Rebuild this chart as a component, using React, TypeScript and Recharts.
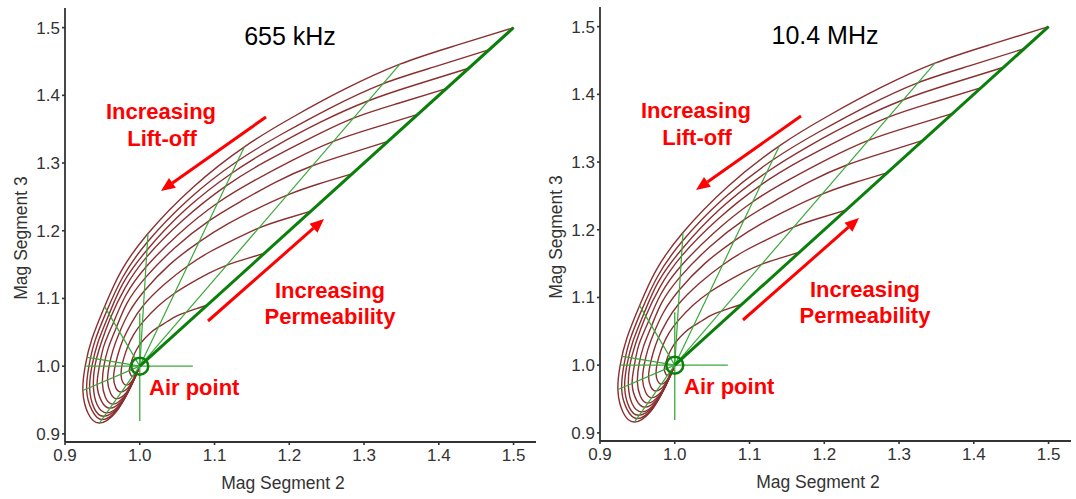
import React from 'react';
import { LineChart, Line, XAxis, YAxis, ReferenceDot } from 'recharts';

const xTicks = [0.9, 1.0, 1.1, 1.2, 1.3, 1.4, 1.5];
const yTicks = [0.9, 1.0, 1.1, 1.2, 1.3, 1.4, 1.5];
const panelTitles = ['655 kHz', '10.4 MHz'];

// lift-off curves, one per permeability: start on the zero lift-off line, run round to the air point
const mu1 = [[1.5, 1.5], [1.421, 1.473], [1.348, 1.446], [1.274, 1.409], [1.205, 1.368], [1.14, 1.324], [1.071, 1.264], [1.011, 1.196], [0.975, 1.14], [0.953, 1.088], [0.936, 1.04], [0.927, 1.0], [0.924, 0.962], [0.931, 0.93], [0.946, 0.916], [0.968, 0.932], [0.986, 0.966], [1.0, 1.0]];
const mu2 = [[1.4675, 1.4675], [1.394, 1.442], [1.325, 1.417], [1.256, 1.382], [1.192, 1.344], [1.131, 1.303], [1.066, 1.247], [1.01, 1.183], [0.977, 1.131], [0.956, 1.082], [0.94, 1.037], [0.932, 1.0], [0.929, 0.964], [0.936, 0.935], [0.95, 0.921], [0.97, 0.936], [0.987, 0.968], [1.0, 1.0]];
const mu3 = [[1.44, 1.44], [1.37, 1.416], [1.306, 1.392], [1.241, 1.36], [1.18, 1.324], [1.123, 1.285], [1.062, 1.232], [1.01, 1.172], [0.978, 1.123], [0.959, 1.077], [0.944, 1.035], [0.936, 1.0], [0.933, 0.967], [0.939, 0.938], [0.952, 0.926], [0.972, 0.94], [0.988, 0.97], [1.0, 1.0]];
const mu4 = [[1.41, 1.41], [1.345, 1.388], [1.285, 1.366], [1.225, 1.335], [1.168, 1.302], [1.115, 1.266], [1.058, 1.216], [1.009, 1.161], [0.98, 1.115], [0.961, 1.072], [0.948, 1.033], [0.94, 1.0], [0.938, 0.969], [0.943, 0.943], [0.956, 0.931], [0.974, 0.944], [0.989, 0.972], [1.0, 1.0]];
const mu5 = [[1.372, 1.372], [1.313, 1.352], [1.259, 1.332], [1.204, 1.304], [1.153, 1.274], [1.104, 1.241], [1.053, 1.196], [1.008, 1.146], [0.981, 1.104], [0.965, 1.065], [0.952, 1.03], [0.946, 1.0], [0.943, 0.972], [0.949, 0.948], [0.96, 0.938], [0.976, 0.949], [0.99, 0.975], [1.0, 1.0]];
const mu6 = [[1.332, 1.332], [1.28, 1.314], [1.231, 1.296], [1.182, 1.272], [1.136, 1.244], [1.093, 1.215], [1.047, 1.175], [1.007, 1.13], [0.983, 1.093], [0.969, 1.058], [0.958, 1.027], [0.952, 1.0], [0.95, 0.975], [0.954, 0.954], [0.964, 0.944], [0.979, 0.955], [0.991, 0.977], [1.0, 1.0]];
const mu7 = [[1.284, 1.284], [1.239, 1.269], [1.198, 1.253], [1.156, 1.232], [1.116, 1.209], [1.08, 1.184], [1.04, 1.15], [1.006, 1.111], [0.986, 1.08], [0.973, 1.05], [0.964, 1.023], [0.959, 1.0], [0.957, 0.978], [0.961, 0.96], [0.969, 0.952], [0.982, 0.961], [0.992, 0.981], [1.0, 1.0]];
const mu8 = [[1.229, 1.229], [1.193, 1.217], [1.159, 1.204], [1.126, 1.187], [1.094, 1.169], [1.064, 1.148], [1.033, 1.121], [1.005, 1.09], [0.989, 1.064], [0.978, 1.04], [0.971, 1.018], [0.967, 1.0], [0.965, 0.983], [0.968, 0.968], [0.975, 0.962], [0.985, 0.969], [0.994, 0.984], [1.0, 1.0]];
const mu9 = [[1.167, 1.167], [1.141, 1.158], [1.116, 1.149], [1.092, 1.137], [1.069, 1.123], [1.047, 1.108], [1.024, 1.088], [1.004, 1.065], [0.992, 1.047], [0.984, 1.029], [0.979, 1.013], [0.976, 1.0], [0.975, 0.987], [0.977, 0.977], [0.982, 0.972], [0.989, 0.977], [0.995, 0.989], [1.0, 1.0]];
const mu10 = [[1.09, 1.09], [1.076, 1.085], [1.063, 1.08], [1.049, 1.074], [1.037, 1.066], [1.025, 1.058], [1.013, 1.048], [1.002, 1.035], [0.996, 1.025], [0.992, 1.016], [0.989, 1.007], [0.987, 1.0], [0.986, 0.993], [0.988, 0.987], [0.99, 0.985], [0.994, 0.988], [0.997, 0.994], [1.0, 1.0]];
const liftOffCurves = [mu1, mu2, mu3, mu4, mu5, mu6, mu7, mu8, mu9, mu10];

const airPoint = [1.0, 1.0];
const zeroLiftOff = [[1.0, 1.0], [1.5, 1.5]];
// constant lift-off lines, from the air point out to the outer curve
const rayEnds = [[1.348, 1.446], [1.14, 1.324], [1.011, 1.196], [0.953, 1.088], [0.93, 1.013], [0.924, 0.964], [0.946, 0.916]];
const crossX = [0.927, 1.071];
const crossY = [0.919, 1.078];

const FONT = '"Liberation Sans", Arial, sans-serif';
const BROWN = '#8a3030';
const GREEN = '#3aa83a';
const DARK_GREEN = '#0b7f0b';
const RED = '#ff0000';
const AXIS = '#333333';

const toPoints = (pts: number[][]) => pts.map(([x, y]) => ({ x, y }));

const Arrow = ({ from, to }: { from: number[]; to: number[] }) => {
  const dx = to[0] - from[0];
  const dy = to[1] - from[1];
  const len = Math.hypot(dx, dy);
  const ux = dx / len;
  const uy = dy / len;
  const bx = to[0] - ux * 14;
  const by = to[1] - uy * 14;
  const px = -uy * 6;
  const py = ux * 6;
  return (
    <g>
      <line x1={from[0]} y1={from[1]} x2={bx} y2={by} stroke={RED} strokeWidth={3} />
      <polygon points={`${to[0]},${to[1]} ${bx + px},${by + py} ${bx - px},${by - py}`} fill={RED} />
    </g>
  );
};

const Panel = ({ title, left, top }: { title: string; left: number; top: number }) => {
  const red = { fill: RED, fontFamily: FONT, fontSize: 22, fontWeight: 700 as const, textAnchor: 'middle' as const };
  return (
    <div style={{ position: 'absolute', left, top, width: 540, height: 499 }}>
      <LineChart width={540} height={499} margin={{ top: 8, right: 4, bottom: 0, left: 0 }}>
        <XAxis
          type="number"
          dataKey="x"
          domain={[0.9, 1.53]}
          allowDataOverflow
          ticks={xTicks}
          tickFormatter={(v: number) => v.toFixed(1)}
          height={57}
          tickSize={3}
          tickMargin={4}
          axisLine={{ stroke: AXIS, strokeWidth: 1.8 }}
          tickLine={{ stroke: AXIS, strokeWidth: 1.6 }}
          tick={{ fill: '#333', fontSize: 17, fontFamily: FONT }}
          label={{
            content: () => (
              <text x={283} y={489} textAnchor="middle" fill="#333" fontSize={17.5} fontFamily={FONT}>
                Mag Segment 2
              </text>
            ),
          }}
        />
        <YAxis
          type="number"
          dataKey="y"
          domain={[0.888, 1.529]}
          allowDataOverflow
          ticks={yTicks}
          tickFormatter={(v: number) => v.toFixed(1)}
          width={65}
          tickSize={3}
          tickMargin={2}
          axisLine={{ stroke: AXIS, strokeWidth: 1.8 }}
          tickLine={{ stroke: AXIS, strokeWidth: 1.6 }}
          tick={{ fill: '#333', fontSize: 17, fontFamily: FONT }}
          label={{
            content: () => (
              <text
                x={21}
                y={238}
                transform="rotate(-90 21 238)"
                textAnchor="middle"
                dominantBaseline="central"
                fill="#333"
                fontSize={17.5}
                fontFamily={FONT}
              >
                Mag Segment 3
              </text>
            ),
          }}
        />
        {liftOffCurves.map((c, i) => (
          <Line
            key={'mu' + i}
            data={toPoints(c)}
            dataKey="y"
            type="natural"
            stroke={BROWN}
            strokeWidth={1.4}
            dot={false}
            activeDot={false}
            isAnimationActive={false}
          />
        ))}
        {rayEnds.map((e, i) => (
          <Line
            key={'ray' + i}
            data={toPoints([airPoint, e])}
            dataKey="y"
            type="linear"
            stroke={GREEN}
            strokeWidth={1.2}
            dot={false}
            activeDot={false}
            isAnimationActive={false}
          />
        ))}
        <Line
          data={toPoints([[crossX[0], airPoint[1]], [crossX[1], airPoint[1]]])}
          dataKey="y"
          type="linear"
          stroke={GREEN}
          strokeWidth={1.3}
          dot={false}
          activeDot={false}
          isAnimationActive={false}
        />
        <Line
          data={toPoints([[airPoint[0], crossY[0]], [airPoint[0], crossY[1]]])}
          dataKey="y"
          type="linear"
          stroke={GREEN}
          strokeWidth={1.3}
          dot={false}
          activeDot={false}
          isAnimationActive={false}
        />
        <Line
          data={toPoints(zeroLiftOff)}
          dataKey="y"
          type="linear"
          stroke={DARK_GREEN}
          strokeWidth={3}
          dot={false}
          activeDot={false}
          isAnimationActive={false}
        />
        <ReferenceDot x={airPoint[0]} y={airPoint[1]} r={8.5} fill="none" stroke={DARK_GREEN} strokeWidth={2.5} />
      </LineChart>
      <svg width={540} height={499} style={{ position: 'absolute', left: 0, top: 0, pointerEvents: 'none' }}>
        <text x={290} y={45} textAnchor="middle" fontSize={25} fontFamily={FONT} fill="#000">
          {title}
        </text>
        <text x={161} y={119} {...red}>Increasing</text>
        <text x={162} y={146} {...red}>Lift-off</text>
        <Arrow from={[266, 117]} to={[161, 191]} />
        <text x={330} y={298} {...red}>Increasing</text>
        <text x={330} y={324} {...red}>Permeability</text>
        <Arrow from={[208, 321]} to={[324, 219]} />
        <text x={149} y={395} {...red} textAnchor="start">Air point</text>
      </svg>
    </div>
  );
};

export default function App() {
  return (
    <div style={{ position: 'absolute', left: 0, top: 0, width: 1076, height: 499, background: '#fff', overflow: 'hidden' }}>
      <Panel title={panelTitles[0]} left={0} top={0} />
      <Panel title={panelTitles[1]} left={535} top={-1} />
    </div>
  );
}
